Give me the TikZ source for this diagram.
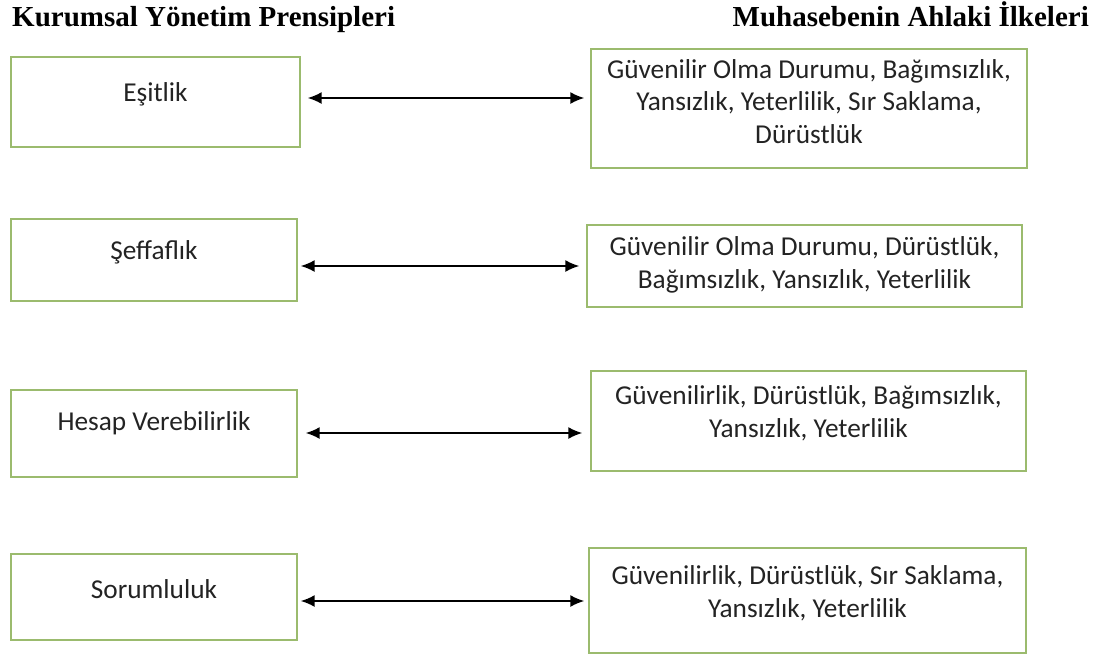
\documentclass[tikz,border=0pt]{standalone}
\usepackage{fontspec}
\setmainfont{Carlito}
\newfontfamily\titlefont{Liberation Serif}
\usetikzlibrary{arrows.meta}
\definecolor{boxgreen}{RGB}{155,187,110}
\definecolor{textgray}{RGB}{35,35,35}

\begin{document}
\begin{tikzpicture}[x=1pt,y=-1pt,
  box/.style={draw=boxgreen,line width=1.3pt,inner sep=0pt},
  txt/.style={font=\fontsize{27.3}{32.5}\selectfont,text=textgray,align=center,inner sep=0pt},
  head/.style={font=\titlefont\bfseries\fontsize{29}{34}\selectfont,inner sep=0pt},
  link/.style={line width=1.8pt,{Latex[length=14pt,width=12pt]}-{Latex[length=14pt,width=12pt]}}]

\useasboundingbox (0,0) rectangle (1103,657);

% Headings
\node[head,anchor=base west] (kyp) at (12,26) {Kurumsal Yönetim Prensipleri};
\node[head,anchor=base east] (mai) at (1089,26) {Muhasebenin Ahlaki İlkeleri};

% Left boxes
\node[box,minimum width=289pt,minimum height=90pt] (esit) at (155.5,102) {};
\node[box,minimum width=286pt,minimum height=82pt] (seff) at (154,260) {};
\node[box,minimum width=286pt,minimum height=87pt] (hesap) at (154,433.5) {};
\node[box,minimum width=286pt,minimum height=86pt] (sorum) at (154,597) {};

\node[txt,anchor=base] (esitT) at (155.5,101) {Eşitlik};
\node[txt,anchor=base] (seffT) at (154,259) {Şeffaflık};
\node[txt,anchor=base] (hesapT) at (154,430) {Hesap Verebilirlik};
\node[txt,anchor=base] (sorumT) at (154,598) {Sorumluluk};

% Right boxes
\node[box,minimum width=436pt,minimum height=119pt] (ilk1) at (809,108.5) {};
\node[box,minimum width=435pt,minimum height=82pt] (ilk2) at (804.5,266) {};
\node[box,minimum width=435pt,minimum height=100pt] (ilk3) at (808.5,421) {};
\node[box,minimum width=437pt,minimum height=105pt] (ilk4) at (807.5,600.5) {};

% (base = last line)
\node[txt,anchor=base] (ilk1T) at (809,143) {Güvenilir Olma Durumu, Bağımsızlık,\\Yansızlık, Yeterlilik, Sır Saklama,\\Dürüstlük};
\node[txt,anchor=base] (ilk2T) at (804.5,288) {Güvenilir Olma Durumu, Dürüstlük,\\Bağımsızlık, Yansızlık, Yeterlilik};
\node[txt,anchor=base] (ilk3T) at (808.5,437) {Güvenilirlik, Dürüstlük, Bağımsızlık,\\Yansızlık, Yeterlilik};
\node[txt,anchor=base] (ilk4T) at (807.5,617) {Güvenilirlik, Dürüstlük, Sır Saklama,\\Yansızlık, Yeterlilik};

% Arrows
\draw[link,shorten <=7pt,shorten >=6pt] (esit.east |- 0,98) -- (ilk1.west |- 0,98);
\draw[link,shorten <=3pt,shorten >=7pt] (seff.east |- 0,266) -- (ilk2.west |- 0,266);
\draw[link,shorten <=8pt,shorten >=8pt] (hesap.east |- 0,433) -- (ilk3.west |- 0,433);
\draw[link,shorten <=3pt,shorten >=4pt] (sorum.east |- 0,601) -- (ilk4.west |- 0,601);

\end{tikzpicture}
\end{document}
